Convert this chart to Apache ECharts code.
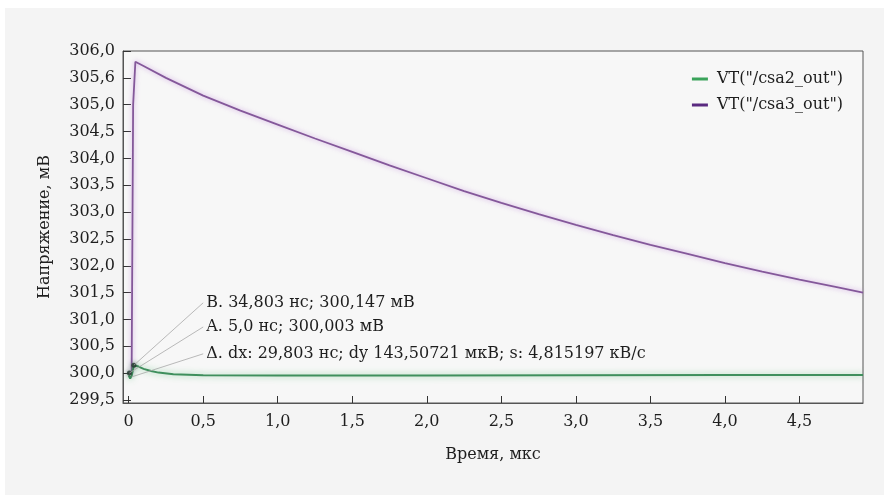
<!DOCTYPE html>
<html>
<head>
<meta charset="utf-8">
<script src="https://cdn.jsdelivr.net/npm/echarts@6/dist/echarts.min.js"></script>
<style>
  html, body { margin: 0; padding: 0; background: #ffffff; }
  #chart { width: 884px; height: 495px; }
</style>
</head>
<body>
<div id="chart"></div>
<script>
// Transient response of two nodes, time in microseconds, voltage in millivolts
const seriesNames = ['VT("/csa2_out")', 'VT("/csa3_out")'];

const csa2Time = [0, 0.01, 0.02, 0.035, 0.06, 0.1, 0.15, 0.2, 0.3, 0.5, 1.0, 2.0, 3.0, 4.0, 4.926];
const csa2Volt = [299.96, 299.90, 299.95, 300.147, 300.13, 300.08, 300.04, 300.01, 299.98, 299.96, 299.955, 299.955, 299.96, 299.965, 299.965];

const csa3Time = [0, 0.02, 0.03, 0.045, 0.1, 0.25, 0.5, 0.75, 1.0, 1.25, 1.5, 1.75, 2.0, 2.25, 2.5, 2.75, 3.0, 3.25, 3.5, 3.75, 4.0, 4.25, 4.5, 4.75, 4.926];
const csa3Volt = [300.0, 300.02, 305.0, 305.80, 305.72, 305.50, 305.17, 304.89, 304.63, 304.37, 304.12, 303.87, 303.63, 303.39, 303.17, 302.96, 302.76, 302.57, 302.39, 302.22, 302.05, 301.89, 301.74, 301.60, 301.50];

// Axis ticks and their printed labels
const xTicks = [0, 0.5, 1.0, 1.5, 2.0, 2.5, 3.0, 3.5, 4.0, 4.5];
const xTickLabels = ['0', '0,5', '1,0', '1,5', '2,0', '2,5', '3,0', '3,5', '4,0', '4,5'];
const yTicks = [299.5, 300.0, 300.5, 301.0, 301.5, 302.0, 302.5, 303.0, 303.5, 304.0, 304.5, 305.0, 305.5, 306.0];
const yTickLabels = ['299,5', '300,0', '300,5', '301,0', '301,5', '302,0', '302,5', '303,0', '303,5', '304,0', '304,5', '305,0', '305,6', '306,0'];

// Cursor readouts: marker point, text anchor, text
const cursorPoints = [[0.034803, 300.147], [0.005, 300.003], [0.02, 299.93]];
const cursorAnchors = [[0.5, 301.31], [0.5, 300.86], [0.5, 300.36]];
const cursorTexts = [
  'B. 34,803 нс; 300,147 мВ',
  'A. 5,0 нс; 300,003 мВ',
  'Δ. dx: 29,803 нс; dy 143,50721 мкВ; s: 4,815197 кВ/с'
];

const FONT = 'DejaVu Serif';
const FS = 16;
const TEXT = '#1e1e1e';
const zip = (a, b) => a.map((v, i) => [v, b[i]]);

const chart = echarts.init(document.getElementById('chart'), null, { renderer: 'canvas' });

chart.setOption({
  backgroundColor: '#ffffff',
  animation: false,
  textStyle: { fontFamily: FONT, color: TEXT },
  graphic: [{
    type: 'rect', z: -10, silent: true,
    shape: { x: 5, y: 8, width: 884, height: 495 },
    style: { fill: '#f4f4f4' }
  }],
  grid: {
    left: 123, right: 21, top: 51, bottom: 92,
    show: true, backgroundColor: '#f7f7f7',
    borderColor: '#555', borderWidth: 1
  },
  legend: {
    right: 36, top: 66, orient: 'vertical', itemGap: 10,
    itemWidth: 16, itemHeight: 3, icon: 'rect',
    textStyle: { fontFamily: FONT, fontSize: FS, color: TEXT, padding: [0, 0, 0, 4] },
    data: [
      { name: seriesNames[0], itemStyle: { color: '#3aa35a' } },
      { name: seriesNames[1], itemStyle: { color: '#5a2a80' } }
    ]
  },
  xAxis: {
    type: 'value', min: -0.038, max: 4.926,
    name: 'Время, мкс', nameLocation: 'middle', nameGap: 44,
    nameTextStyle: { fontFamily: FONT, fontSize: FS, color: TEXT },
    axisLine: { show: true, onZero: false, lineStyle: { color: '#555', width: 1 } },
    axisTick: { show: true, inside: true, length: 7, customValues: xTicks, lineStyle: { color: '#333' } },
    axisLabel: {
      customValues: xTicks, margin: 11, fontFamily: FONT, fontSize: FS, color: TEXT,
      formatter: v => { const i = xTicks.findIndex(t => Math.abs(t - v) < 1e-6); return i >= 0 ? xTickLabels[i] : ''; }
    },
    splitLine: { show: false }
  },
  yAxis: {
    type: 'value', min: 299.444, max: 306.0,
    name: 'Напряжение, мВ', nameLocation: 'middle', nameGap: 70, nameRotate: 90,
    nameTextStyle: { fontFamily: FONT, fontSize: FS, color: TEXT },
    axisLine: { show: true, onZero: false, lineStyle: { color: '#555', width: 1 } },
    axisTick: { show: true, inside: true, length: 8, customValues: yTicks, lineStyle: { color: '#333' } },
    axisLabel: {
      customValues: yTicks, margin: 8, fontFamily: FONT, fontSize: FS, color: TEXT,
      formatter: v => { const i = yTicks.findIndex(t => Math.abs(t - v) < 1e-6); return i >= 0 ? yTickLabels[i] : ''; }
    },
    splitLine: { show: false }
  },
  series: [
    {
      name: seriesNames[0], type: 'line', showSymbol: false, symbol: 'none',
      data: zip(csa2Time, csa2Volt),
      itemStyle: { color: '#3aa35a' },
      lineStyle: { color: '#3f8f5d', width: 2, shadowColor: 'rgba(90,190,120,0.7)', shadowBlur: 6 },
      z: 3
    },
    {
      name: seriesNames[1], type: 'line', showSymbol: false, symbol: 'none',
      data: zip(csa3Time, csa3Volt),
      itemStyle: { color: '#5a2a80' },
      lineStyle: { color: '#84589a', width: 1.8, shadowColor: 'rgba(195,140,220,0.8)', shadowBlur: 5 },
      z: 2
    },
    {
      name: 'cursors', type: 'scatter', symbol: 'circle', symbolSize: 5,
      data: cursorPoints.slice(0, 2),
      itemStyle: { color: 'rgba(40,60,50,0.85)', opacity: 1, shadowColor: 'rgba(40,60,50,0.6)', shadowBlur: 4 },
      z: 4,
      markLine: {
        silent: true, symbol: ['none', 'none'],
        lineStyle: { color: '#a8a8a8', width: 0.8, type: 'solid' },
        label: { show: false },
        data: cursorPoints.map((p, i) => [{ coord: p }, { coord: cursorAnchors[i] }])
      }
    },
    {
      name: 'cursorText', type: 'scatter', symbolSize: 0,
      data: cursorAnchors.map((p, i) => ({ value: p, name: cursorTexts[i] })),
      itemStyle: { opacity: 1 },
      label: {
        show: true, position: 'right', distance: 3,
        fontFamily: FONT, fontSize: FS, color: TEXT,
        formatter: p => p.name
      },
      z: 5
    }
  ]
});
</script>
</body>
</html>
